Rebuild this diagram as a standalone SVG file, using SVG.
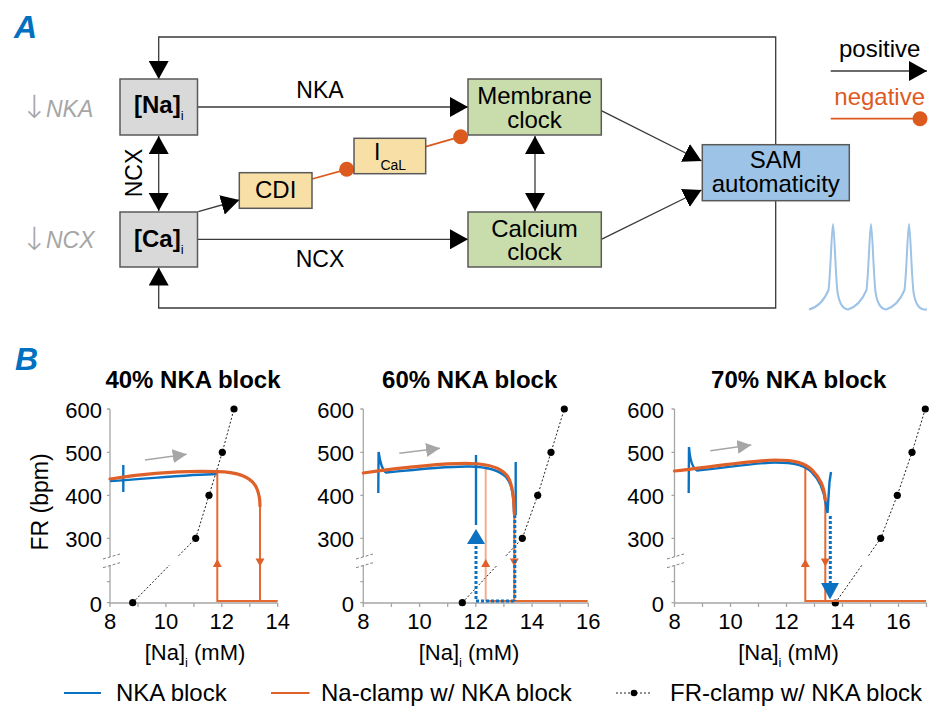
<svg xmlns="http://www.w3.org/2000/svg" width="929" height="706" viewBox="0 0 929 706">
  <style>
    text { font-family: "Liberation Sans", Arial, sans-serif; fill: #000; }
    .lbl { font-size: 24px; }
    .mid { font-size: 23px; }
    .tick { font-size: 22px; }
    .ttl { font-size: 24px; font-weight: bold; }
    .panel { font-size: 32px; font-weight: bold; font-style: italic; fill: #0070c0; }
    .gray { fill: #a6a6a6; font-size: 23px; }
    .box { stroke: #595959; stroke-width: 1.5; }
    .na { fill: #d9d9d9; }
    .clk { fill: #c9dcab; }
    .tan { fill: #f8dfa6; }
    .sam { fill: #9dc3e6; }
    .con { fill: none; stroke: #3a3a3a; stroke-width: 1.3; }
    .neg { fill: none; stroke: #dd5a1e; stroke-width: 1.8; }
    .axis { fill: none; stroke: #a6a6a6; stroke-width: 1.3; }
    .brk { fill: none; stroke: #808080; stroke-width: 1; stroke-dasharray: 3 2; }
    .fr { fill: none; stroke: #222; stroke-width: 1; stroke-dasharray: 2 2; }
    .org { fill: none; stroke: #e0602a; stroke-width: 3.2; stroke-linecap: round; }
    .orgT { fill: none; stroke: #e66a30; stroke-width: 2; }
    .blu { fill: none; stroke: #0b72c1; stroke-width: 2.4; }
    .bluD { fill: none; stroke: #0b72c1; stroke-width: 3; stroke-dasharray: 3 2; }
    .garr { fill: none; stroke: #a6a6a6; stroke-width: 1.6; }
  </style>
  <defs>
    <marker id="arr" markerUnits="userSpaceOnUse" markerWidth="18" markerHeight="20" refX="18" refY="10" orient="auto-start-reverse" viewBox="0 0 18 20">
      <path d="M0,0 L18,10 L0,20 Z" fill="#000"/>
    </marker>
    <marker id="garrow" markerUnits="userSpaceOnUse" markerWidth="14" markerHeight="14" refX="14" refY="7" orient="auto" viewBox="0 0 14 14">
      <path d="M0,0 L14,7 L0,14 Z" fill="#a6a6a6"/>
    </marker>
  </defs>

  <rect width="929" height="706" fill="#fff"/>

  <!-- Panel A: feedback scheme -->
  <text class="panel" x="14" y="38">A</text>

  <g id="connectors">
    <!-- outer feedback loop -->
    <path class="con" d="M158.7,79 V37 H775.7 V308 H158.7 V267.5" marker-start="url(#arr)" marker-end="url(#arr)"/>
    <!-- NKA: [Na]i to membrane clock -->
    <line class="con" x1="197.5" y1="107" x2="468" y2="107" marker-end="url(#arr)"/>
    <!-- NCX: [Ca]i to calcium clock -->
    <line class="con" x1="197.5" y1="239.3" x2="468" y2="239.3" marker-end="url(#arr)"/>
    <!-- NCX coupling between Na and Ca -->
    <line class="con" x1="158.7" y1="136" x2="158.7" y2="211" marker-start="url(#arr)" marker-end="url(#arr)"/>
    <!-- coupled clocks -->
    <line class="con" x1="535" y1="136" x2="535" y2="211" marker-start="url(#arr)" marker-end="url(#arr)"/>
    <!-- [Ca]i to CDI -->
    <line class="con" x1="198.3" y1="211.7" x2="239.3" y2="200" marker-end="url(#arr)"/>
    <!-- clocks to SAM automaticity -->
    <line class="con" x1="601.3" y1="110.7" x2="701.5" y2="161" marker-end="url(#arr)"/>
    <line class="con" x1="601.3" y1="239.3" x2="701.5" y2="190" marker-end="url(#arr)"/>
    <!-- inhibitory links -->
    <line class="neg" x1="312" y1="179" x2="346.7" y2="169.3"/>
    <circle cx="346.7" cy="169.3" r="7.5" fill="#dd5a1e"/>
    <line class="neg" x1="425.7" y1="146.7" x2="460.7" y2="136.7"/>
  </g>

  <g id="na">
    <rect class="box na" x="120" y="79" width="77.5" height="56"/>
    <text x="134" y="113" font-size="24" font-weight="bold">[Na]<tspan font-size="13" font-weight="normal" dy="7">i</tspan></text>
  </g>
  <g id="ca">
    <rect class="box na" x="120" y="212" width="77.5" height="55"/>
    <text x="134" y="246.5" font-size="24" font-weight="bold">[Ca]<tspan font-size="13" font-weight="normal" dy="7">i</tspan></text>
  </g>
  <g id="membrane-clock">
    <rect class="box clk" x="468" y="79" width="133.3" height="56"/>
    <text class="lbl" x="534.5" y="104" text-anchor="middle">Membrane</text>
    <text class="lbl" x="534.5" y="127.7" text-anchor="middle">clock</text>
  </g>
  <g id="calcium-clock">
    <rect class="box clk" x="468" y="212" width="133.3" height="55"/>
    <text class="lbl" x="534.5" y="236.7" text-anchor="middle">Calcium</text>
    <text class="lbl" x="534.5" y="260" text-anchor="middle">clock</text>
  </g>
  <g id="cdi">
    <rect class="box tan" x="239.3" y="172.7" width="72.7" height="35.6"/>
    <text class="lbl" x="275.7" y="198.3" text-anchor="middle">CDI</text>
  </g>
  <g id="ical">
    <rect class="box tan" x="354" y="138.3" width="71.7" height="35.4"/>
    <text x="374" y="160" font-size="23">I<tspan font-size="14" dy="9.5">CaL</tspan></text>
  </g>
  <g id="sam">
    <rect class="box sam" x="702.3" y="144.7" width="147" height="56"/>
    <text class="lbl" x="775.8" y="168.3" text-anchor="middle">SAM</text>
    <text class="lbl" x="775.8" y="192" text-anchor="middle">automaticity</text>
  </g>
  <!-- inhibition end on the membrane clock, drawn above the box corner -->
  <circle cx="460.7" cy="136.7" r="7.5" fill="#dd5a1e"/>

  <!-- edge labels -->
  <text class="mid" x="320" y="97.7" text-anchor="middle">NKA</text>
  <text class="mid" x="320" y="266.7" text-anchor="middle">NCX</text>
  <text class="mid" x="141.5" y="173" text-anchor="middle" transform="rotate(-90 141.5 173)">NCX</text>

  <!-- interventions -->
  <text class="gray" x="21" y="118"><tspan font-size="32" font-family="DejaVu Sans, sans-serif" font-weight="200">↓</tspan><tspan x="46" y="116.7" font-style="italic">NKA</tspan></text>
  <text class="gray" x="21" y="249.6"><tspan font-size="32" font-family="DejaVu Sans, sans-serif" font-weight="200">↓</tspan><tspan x="46" y="248.3" font-style="italic">NCX</tspan></text>

  <!-- key -->
  <g id="key">
    <text class="lbl" x="839" y="57.3">positive</text>
    <line class="con" x1="830.7" y1="71" x2="927" y2="71" stroke="#000" marker-end="url(#arr)"/>
    <text class="lbl" x="834.3" y="104.5" style="fill:#dd5a1e">negative</text>
    <line class="neg" x1="830.7" y1="118.7" x2="920" y2="118.7"/>
    <circle cx="920" cy="118.7" r="7.5" fill="#dd5a1e"/>
  </g>

  <!-- spontaneous action potentials -->
  <path id="ap-trace" fill="none" stroke="#9dc3e6" stroke-width="2" d="M809,309.5 C818,307 824,301 828.5,290 C830.5,275 831.8,224 833,224 C834.2,224 835.5,275 837.5,292 C839.5,305 843,309 848,309.5 C856,307 862,301 866.5,290 C868.5,275 869.8,224 871,224 C872.2,224 873.5,275 875.5,292 C877.5,305 881,309 886,309.5 C894,307 900,301 904.5,290 C906.5,275 907.8,224 909,224 C910.2,224 911.5,275 913.5,292 C915.5,305 919,309 924,309.5 L927,309.5"/>

  <!-- Panel B: rate vs [Na]i -->
  <text class="panel" x="15" y="369.5">B</text>

  <!-- 40% NKA block -->
  <g id="plot-40">
    <text class="ttl" x="193" y="388" text-anchor="middle">40% NKA block</text>
    <path class="axis" d="M110,409 V557 M110,565 V603 H277.7"/>
    <path class="axis" d="M107,409 H110 M107,452.3 H110 M107,495.3 H110 M107,538.3 H110 M107,581.7 H110 M107,602.7 H110"/>
    <path class="axis" d="M110,603 v4 M138,603 v4 M165.9,603 v4 M193.9,603 v4 M221.8,603 v4 M249.8,603 v4 M277.7,603 v4"/>
    <path class="brk" d="M103,559 L120,554 M103,567.7 L120,562.7"/>
    <g class="tick" text-anchor="end">
      <text x="102" y="417.5">600</text>
      <text x="102" y="460.5">500</text>
      <text x="102" y="503.5">400</text>
      <text x="102" y="546.5">300</text>
      <text x="102" y="611.5">0</text>
    </g>
    <g class="tick" text-anchor="middle">
      <text x="110" y="629">8</text>
      <text x="165.9" y="629">10</text>
      <text x="221.8" y="629">12</text>
      <text x="277.7" y="629">14</text>
    </g>
    <text x="195" y="660" font-size="22" text-anchor="middle">[Na]<tspan font-size="13" dy="7">i</tspan><tspan dy="-7"> (mM)</tspan></text>
    <text x="48" y="502" font-size="23" text-anchor="middle" transform="rotate(-90 48 502)">FR (bpm)</text>
    <!-- FR-clamp -->
    <path class="fr" d="M132.7,602.7 L169.6,565 M178.7,555.7 L195.7,538.3 L209,495.3 L222.3,452.3 L234,409"/>
    <g fill="#000">
      <circle cx="132.7" cy="602.7" r="3.6"/><circle cx="195.7" cy="538.3" r="3.6"/>
      <circle cx="209" cy="495.3" r="3.6"/><circle cx="222.3" cy="452.3" r="3.6"/>
      <circle cx="234" cy="409" r="3.6"/>
    </g>
    <!-- direction of [Na]i change -->
    <line class="garr" x1="145" y1="460" x2="186.7" y2="454.3" marker-end="url(#garrow)"/>
    <!-- NKA block -->
    <path class="blu" d="M123.3,465 L123.3,492"/>
    <path class="blu" d="M110,481 C150,478.5 190,474.5 217,474"/>
    <!-- Na-clamp -->
    <path class="orgT" d="M217.3,472 V601 H277.7 M260,500 V601"/>
    <path d="M212.8,567 L217.3,559 L221.8,567 Z M255.5,558.5 L260,566.5 L264.5,558.5 Z" fill="#e0602a"/>
    <path class="org" d="M110,479 Q165,470 217,471.7 C240,472 253,479 257,489 C259.5,495 260,500 260,506"/>
  </g>

  <!-- 60% NKA block -->
  <g id="plot-60">
    <text class="ttl" x="469.7" y="388" text-anchor="middle">60% NKA block</text>
    <path class="axis" d="M363.3,409 V557 M363.3,565 V603 H588.3"/>
    <path class="axis" d="M360.3,409 H363.3 M360.3,452.3 H363.3 M360.3,495.3 H363.3 M360.3,538.3 H363.3 M360.3,581.7 H363.3 M360.3,602.7 H363.3"/>
    <path class="axis" d="M363.3,603 v4 M391.4,603 v4 M419.6,603 v4 M447.7,603 v4 M475.8,603 v4 M503.9,603 v4 M532.1,603 v4 M560.2,603 v4 M588.3,603 v4"/>
    <path class="brk" d="M356,559 L373,554 M356,567.7 L373,562.7"/>
    <g class="tick" text-anchor="end">
      <text x="354" y="417.5">600</text>
      <text x="354" y="460.5">500</text>
      <text x="354" y="503.5">400</text>
      <text x="354" y="546.5">300</text>
      <text x="354" y="611.5">0</text>
    </g>
    <g class="tick" text-anchor="middle">
      <text x="363.3" y="629">8</text>
      <text x="419.6" y="629">10</text>
      <text x="475.8" y="629">12</text>
      <text x="532.1" y="629">14</text>
      <text x="588.3" y="629">16</text>
    </g>
    <text x="469" y="660" font-size="22" text-anchor="middle">[Na]<tspan font-size="13" dy="7">i</tspan><tspan dy="-7"> (mM)</tspan></text>
    <path class="fr" d="M462.3,602.7 L497.4,565 M506.1,555.7 L522.3,538.3 L537.7,495.3 L551,452.3 L564.3,409"/>
    <g fill="#000">
      <circle cx="462.3" cy="602.7" r="3.6"/><circle cx="522.3" cy="538.3" r="3.6"/>
      <circle cx="537.7" cy="495.3" r="3.6"/><circle cx="551" cy="452.3" r="3.6"/>
      <circle cx="564.3" cy="409" r="3.6"/>
    </g>
    <line class="garr" x1="399.3" y1="453.3" x2="440" y2="448.3" marker-end="url(#garrow)"/>
    <!-- Na-clamp branches -->
    <path class="orgT" d="M485.7,466 V601" stroke-opacity="0.55"/>
    <path class="orgT" d="M485.7,601 H587.7 M514.3,515 V601"/>
    <path d="M481.2,567 L485.7,559 L490.2,567 Z M509.8,558.5 L514.3,566.5 L518.8,558.5 Z" fill="#e0602a"/>
    <!-- NKA block -->
    <path class="blu" d="M378.3,493 L378.6,452 C380,462 382,470 386,472.5 C420,469 450,466 470,466.5 C490,467 500,471 506,477 C511,483 513.5,491 514,512"/>
    <path class="blu" d="M515.7,462 V515" stroke-width="2"/>
    <path class="blu" d="M476,455 V525" stroke-width="3.2"/>
    <path d="M467,544 L476,529 L485,544 Z" fill="#0b72c1"/>
    <path class="bluD" d="M476,546 V601 H514.5"/>
    <path class="bluD" d="M514.8,515 V601" stroke-width="2.4"/>
    <path class="org" d="M363.3,473 C400,468 440,463 470,463.5 C490,464 501,468 506.5,475 C511.5,481 514,492 514.3,514"/>
  </g>

  <!-- 70% NKA block -->
  <g id="plot-70">
    <text class="ttl" x="798.7" y="388" text-anchor="middle">70% NKA block</text>
    <path class="axis" d="M674.5,409 V557 M674.5,565 V603 H926.5"/>
    <path class="axis" d="M671.5,409 H674.5 M671.5,452.3 H674.5 M671.5,495.3 H674.5 M671.5,538.3 H674.5 M671.5,581.7 H674.5 M671.5,602.7 H674.5"/>
    <path class="axis" d="M674.5,603 v4 M702.5,603 v4 M730.5,603 v4 M758.5,603 v4 M786.5,603 v4 M814.5,603 v4 M842.5,603 v4 M870.5,603 v4 M898.5,603 v4 M926.5,603 v4"/>
    <path class="brk" d="M667,559 L684,554 M667,567.7 L684,562.7"/>
    <g class="tick" text-anchor="end">
      <text x="664" y="417.5">600</text>
      <text x="664" y="460.5">500</text>
      <text x="664" y="503.5">400</text>
      <text x="664" y="546.5">300</text>
      <text x="664" y="611.5">0</text>
    </g>
    <g class="tick" text-anchor="middle">
      <text x="674.5" y="629">8</text>
      <text x="730.5" y="629">10</text>
      <text x="786.5" y="629">12</text>
      <text x="842.5" y="629">14</text>
      <text x="898.5" y="629">16</text>
    </g>
    <text x="788.5" y="660" font-size="22" text-anchor="middle">[Na]<tspan font-size="13" dy="7">i</tspan><tspan dy="-7"> (mM)</tspan></text>
    <path class="fr" d="M835.3,603 L862,565 M868.5,555.7 L880.7,538.3 L897.3,495.3 L912,452.3 L925.3,409"/>
    <g fill="#000">
      <circle cx="835.3" cy="603" r="3.6"/><circle cx="880.7" cy="538.3" r="3.6"/>
      <circle cx="897.3" cy="495.3" r="3.6"/><circle cx="912" cy="452.3" r="3.6"/>
      <circle cx="925.3" cy="409" r="3.6"/>
    </g>
    <line class="garr" x1="710.3" y1="450.7" x2="751.3" y2="445" marker-end="url(#garrow)"/>
    <!-- Na-clamp branches -->
    <path class="orgT" d="M805.3,466 V601 H926 M825.3,500 V601"/>
    <path d="M800.8,567 L805.3,559 L809.8,567 Z M820.8,558.5 L825.3,566.5 L829.8,558.5 Z" fill="#e0602a"/>
    <!-- NKA block -->
    <path class="blu" d="M688.7,493 L689,447 C690,460 692,468 697,470.5 C730,467 760,462.5 775,462.5 C795,462.5 805,465.5 812,472.5 C820,480 824,490 826,505 L827.5,513 L829.5,482 L831,472"/>
    <path class="bluD" d="M830.3,516 V583"/>
    <path d="M821,583 L839,583 L830,599.5 Z" fill="#0b72c1"/>
    <path class="org" d="M674.5,471 C710,467 750,461 775,460 C795,460 805,463 812,470 C820,478 824,486 825.3,500"/>
  </g>

  <!-- legend -->
  <g id="legend">
    <line x1="64" y1="693" x2="101" y2="693" stroke="#0b72c1" stroke-width="2.2"/>
    <text x="116" y="701" font-size="24">NKA block</text>
    <line x1="271" y1="693" x2="309.5" y2="693" stroke="#e0602a" stroke-width="2.2"/>
    <text x="321" y="701" font-size="24">Na-clamp w/ NKA block</text>
    <line class="fr" x1="616" y1="693" x2="651" y2="693"/>
    <circle cx="634" cy="693" r="3.3" fill="#000"/>
    <text x="670" y="701" font-size="24">FR-clamp w/ NKA block</text>
  </g>
</svg>
